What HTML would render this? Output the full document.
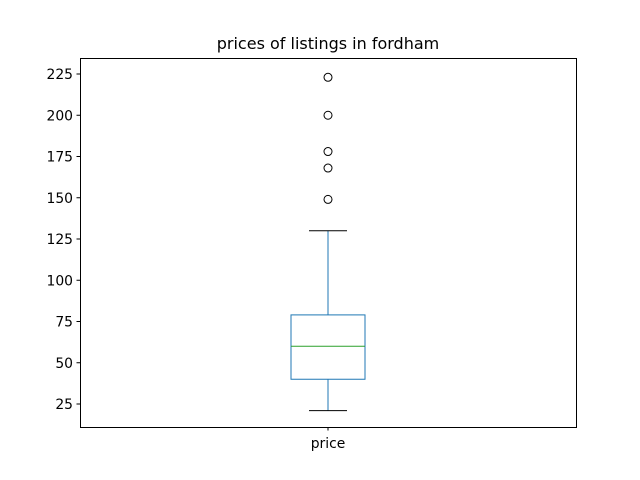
<!DOCTYPE html>
<html><head><meta charset="utf-8"><style>body{margin:0;background:#fff}svg{display:block}text{font-family:"DejaVu Sans","Liberation Sans",sans-serif}</style></head>
<body>
<svg id="chart" width="640" height="480">
<rect width="640" height="480" fill="#fff"/>
<text x="328" y="49" text-anchor="middle" font-size="16">prices of listings in fordham</text>
<g id="plot"></g>
<rect x="80.5" y="58.5" width="496" height="369" fill="none" stroke="#000" stroke-width="1"/>
</svg>
<script>
const categories = ["price"];
const q1 = [40];
const median = [60];
const q3 = [79];
const whiskerLow = [21];
const whiskerHigh = [130];
const outliers = [[149, 168, 178, 200, 223]];
const yTicks = [25, 50, 75, 100, 125, 150, 175, 200, 225];
const yMin = 11.06, yMax = 234.7;
const pTop = 58, pBottom = 427, pLeft = 80, pRight = 576;
const y = v => pBottom - (v - yMin) / (yMax - yMin) * (pBottom - pTop);
const xc = i => pLeft + (pRight - pLeft) * (i + 0.5) / categories.length;
const g = document.getElementById('plot');
const NS = 'http://www.w3.org/2000/svg';
function mk(tag, attrs){const e=document.createElementNS(NS,tag);for(const k in attrs)e.setAttribute(k,attrs[k]);g.appendChild(e);return e;}
yTicks.forEach(t=>{
  const yy=y(t);
  const l=mk('line',{x1:pLeft-3.5,x2:pLeft,y1:yy,y2:yy,stroke:'#000'});
  
  
  const tx=mk('text',{x:pLeft-7,y:yy+5,'text-anchor':'end','font-size':'13.9'});
  tx.textContent=t;
  
  
});
categories.forEach((c,i)=>{
  const cx=xc(i), hw=37, cw=19;
  const b=mk('rect',{x:cx-hw,y:y(q3[i]),width:2*hw,height:y(q1[i])-y(q3[i]),fill:'none',stroke:'#1f77b4'});
  
  
  const m=mk('line',{x1:cx-hw,x2:cx+hw,y1:y(median[i]),y2:y(median[i]),stroke:'#2ca02c'});
  
  
  const w1=mk('line',{x1:cx,x2:cx,y1:y(q1[i]),y2:y(whiskerLow[i]),stroke:'#1f77b4'});
  
  
  const w2=mk('line',{x1:cx,x2:cx,y1:y(q3[i]),y2:y(whiskerHigh[i]),stroke:'#1f77b4'});
  
  
  const c1=mk('line',{x1:cx-cw,x2:cx+cw,y1:y(whiskerLow[i]),y2:y(whiskerLow[i]),stroke:'#000'});
  
  
  const c2=mk('line',{x1:cx-cw,x2:cx+cw,y1:y(whiskerHigh[i]),y2:y(whiskerHigh[i]),stroke:'#000'});
  
  
  outliers[i].forEach(v=>{
    const o=mk('circle',{cx:cx,cy:y(v),r:4,fill:'none',stroke:'#000'});
    
    
  });
  const t=mk('line',{x1:cx,x2:cx,y1:pBottom,y2:pBottom+3.5,stroke:'#000'});
  
  
  const tl=mk('text',{x:cx,y:pBottom+21,'text-anchor':'middle','font-size':'13.9'});
  tl.textContent=c;
  
  
});
</script>
</body></html>
